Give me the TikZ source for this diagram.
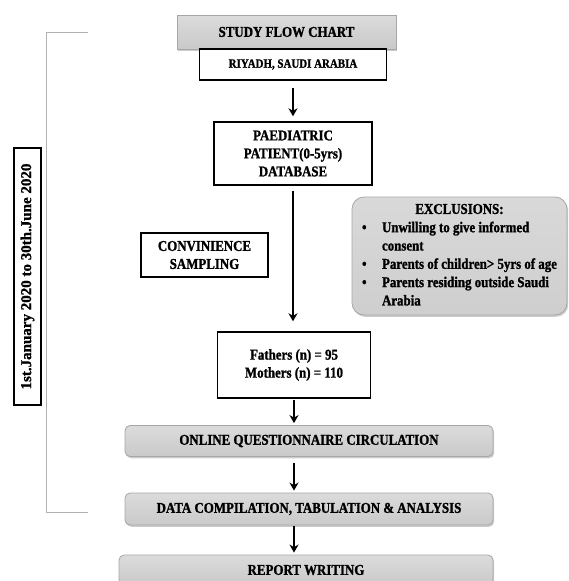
\documentclass[tikz,border=0pt]{standalone}
\usepackage{fontspec}
\setmainfont{Liberation Serif}
\newfontfamily\narrowserif[FakeStretch=0.86,FakeBold=1.2]{Liberation Serif}
\newfontfamily\periodserif[FakeBold=1]{Liberation Serif}
\usetikzlibrary{arrows.meta,positioning,shadows}

\tikzset{
  plainbox/.style={draw,line width=1.4pt,fill=white,align=center,inner sep=0pt,
    font=\narrowserif\fontsize{15}{18}\selectfont\bfseries},
  shadebox/.style={draw=gray!70,line width=0.8pt,top color=gray!28,middle color=gray!8,bottom color=gray!42,
    align=center,inner sep=0pt,font=\narrowserif\fontsize{15}{18}\selectfont\bfseries,
    drop shadow={opacity=0.4,shadow xshift=1.2pt,shadow yshift=-1.8pt}},
  flowarrow/.style={-{Stealth[length=8pt,width=9pt,inset=2.5pt]},line width=1.5pt},
}

\begin{document}
\begin{tikzpicture}[x=1pt,y=-1pt]
  \clip (0,0) rectangle (568,581);

  % main column
  \node[shadebox,minimum width=219pt,minimum height=34pt] (title) at (286.5,32) {STUDY FLOW CHART};
  \node[plainbox,minimum width=187pt,minimum height=31pt,font=\narrowserif\fontsize{12.7}{15}\selectfont\bfseries] (riyadh) at (293,64.5) {RIYADH, SAUDI ARABIA};
  \node[plainbox,minimum width=158pt,minimum height=63pt] (paed) at (293,153.5) {PAEDIATRIC\\PATIENT(0-5yrs)\\DATABASE};
  \node[plainbox,minimum width=153pt,minimum height=66pt] (fathers) at (294,365) {Fathers (n) = 95\\Mothers (n) = 110};
  \node[shadebox,rounded corners=5pt,minimum width=368pt,minimum height=31pt] (online) at (309,441) {ONLINE QUESTIONNAIRE CIRCULATION};
  \node[shadebox,rounded corners=5pt,minimum width=368pt,minimum height=32pt] (data) at (309,509) {DATA COMPILATION, TABULATION \& ANALYSIS};
  \node[shadebox,rounded corners=5pt,minimum width=374pt,minimum height=30pt] (report) at (306,570) {REPORT WRITING};

  % side boxes
  \node[plainbox,minimum width=127pt,minimum height=44pt] (conv) at (204.5,255) {CONVINIENCE\\SAMPLING};
  \node[shadebox,rounded corners=12pt,minimum width=215pt,minimum height=118pt,
        top color=gray!30,middle color=gray!10,bottom color=gray!38,
        font=\narrowserif\fontsize{15}{18.3}\selectfont\bfseries] (excl) at (459.5,256) {%
    \raisebox{-4pt}{\begin{tabular}{@{}p{20pt}@{}l@{}}
      \multicolumn{2}{c}{EXCLUSIONS:}\\
      \textbullet & Unwilling to give informed\\
                  & consent\\
      \textbullet & Parents of children> 5yrs of age\\
      \textbullet & Parents residing outside Saudi\\
                  & Arabia
    \end{tabular}}};

  % study period
  \node[plainbox,rotate=90,minimum width=257pt,minimum height=27pt,font=\periodserif\fontsize{15}{17}\selectfont\bfseries] (period) at (27.5,276.5) {1st.January 2020 to 30th.June 2020};
  \coordinate (brtop) at (88,32);
  \coordinate (brbot) at (88,512);
  \draw[gray!60,line width=1pt] (brtop) -- ++(-42,0) |- (brbot);

  % arrows
  \draw[flowarrow,shorten <=7pt,shorten >=5pt] (riyadh.south) -- (paed.north);
  \draw[flowarrow,shorten <=5pt,shorten >=10pt] (paed.south) -- (paed.south |- fathers.north);
  \draw[flowarrow,shorten <=1pt,shorten >=2pt] (fathers.south) -- (fathers.south |- online.north);
  \draw[flowarrow,shorten <=6pt,shorten >=2pt] (online.south -| fathers.south) -- (data.north -| fathers.south);
  \draw[flowarrow,shorten <=1pt,shorten >=2pt] (data.south -| fathers.south) -- (report.north -| fathers.south);
\end{tikzpicture}
\end{document}
